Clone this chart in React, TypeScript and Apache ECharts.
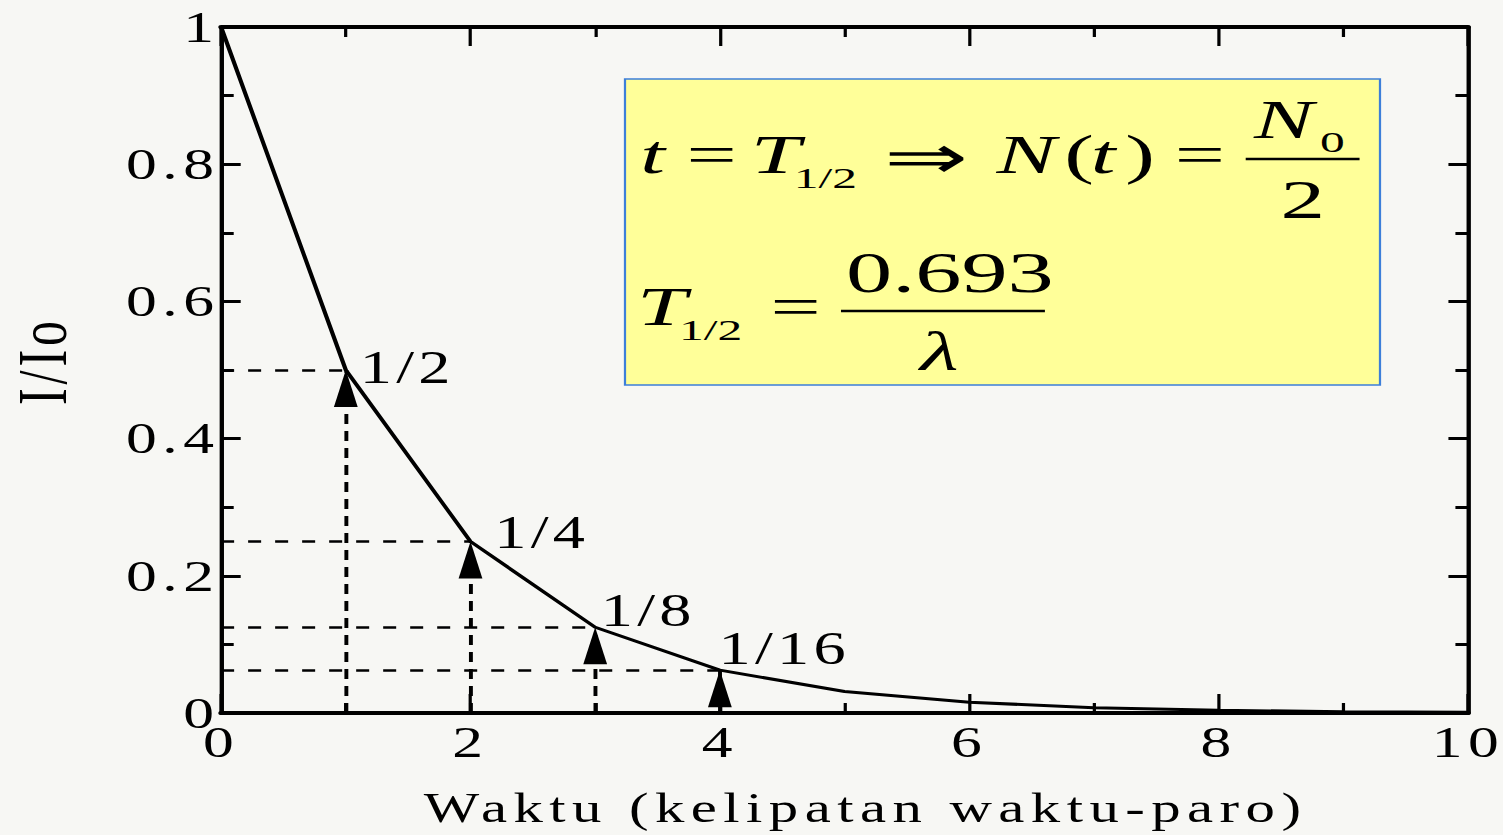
import React, { useEffect, useRef } from 'react';
import * as echarts from 'echarts';

// Radioactive decay: fraction remaining after whole numbers of half-lives.
const halfLives = [0, 1, 2, 3, 4, 5, 6, 7, 8, 9, 10];
const fractionRemaining = [
  1, 0.5, 0.25, 0.125, 0.0625, 0.03125, 0.015625, 0.0078125, 0.00390625, 0.001953125, 0.0009765625,
];

// Highlighted half-life steps and their labels.
const markedHalfLives = [1, 2, 3, 4];
const markedFractions = [0.5, 0.25, 0.125, 0.0625];
const markedLabels = ['1/2', '1/4', '1/8', '1/16'];

const xAxisTitle = 'Waktu (kelipatan waktu-paro)';
const yAxisTitle = 'I/Io';

// Layout: the chart is drawn narrower and widened horizontally.
const PAGE_W = 1503;
const PAGE_H = 835;
const CHART_W = 1074;
const STRETCH = PAGE_W / CHART_W;
const EQ_STRETCH = 1.65 / STRETCH;

const SERIF = 'Liberation Serif, Times New Roman, serif';
const BG = '#f7f7f4';

// Label nudges (px) for the step labels, relative to each point.
const labelNudges: [number, number][] = [
  [10, -3],
  [17, -9],
  [4, -17],
  [-1, -22],
];

const css = `
.decay-chart text[style*="44px"] { letter-spacing: 4px; }
.decay-chart text[style*="50px"] { letter-spacing: 4px; }
.decay-chart text[style*="42px"] { letter-spacing: 4.6px; }
.decay-chart text[style*="46px"] { letter-spacing: 3px; }
`;

const black = '#000';

function frameAxis(isX: boolean, main: boolean) {
  return {
    type: 'value' as const,
    min: 0,
    max: isX ? 10 : 1,
    interval: isX ? 2 : 0.2,
    position: isX ? (main ? 'bottom' : 'top') : main ? 'left' : 'right',
    axisLine: { show: true, onZero: false, lineStyle: { color: black, width: isX ? 4 : 3.1 } },
    axisTick: {
      show: true,
      inside: true,
      length: isX ? 19 : 14,
      lineStyle: { color: black, width: isX ? 2.3 : 3 },
    },
    minorTick: {
      show: true,
      splitNumber: 2,
      length: isX ? 10 : 9,
      lineStyle: { color: black, width: isX ? 2.3 : 3 },
    },
    splitLine: { show: false },
    minorSplitLine: { show: false },
    axisLabel: main
      ? {
          show: true,
          fontSize: 44,
          fontFamily: SERIF,
          color: black,
          margin: isX ? 7 : 1,
        }
      : { show: false },
  };
}

function eqText(text: string, x: number, y: number, size: number, italic = false) {
  return {
    type: 'text',
    x,
    y,
    z: 20,
    silent: true,
    style: {
      text,
      fontSize: size,
      fontFamily: SERIF,
      fontStyle: italic ? 'italic' : 'normal',
      fill: black,
      align: 'left',
      verticalAlign: 'middle',
    },
  };
}

function eqBar(x1: number, x2: number, y: number) {
  return {
    type: 'line',
    z: 20,
    silent: true,
    shape: { x1, y1: y, x2, y2: y },
    style: { stroke: black, lineWidth: 2.5 },
  };
}

const curve = halfLives.map((t, i) => [t, fractionRemaining[i]]);
const marked = markedHalfLives.map((t, i) => [t, markedFractions[i]]);

const option: any = {
  animation: false,
  backgroundColor: BG,
  grid: { left: 158, right: 25, top: 27, bottom: 122, containLabel: false, outerBoundsMode: 'none' },
  xAxis: [
    {
      ...frameAxis(true, true),
      name: xAxisTitle,
      nameLocation: 'middle',
      nameGap: 74,
      nameTextStyle: { fontSize: 42, fontFamily: SERIF, color: black, padding: [0, 0, 0, 30] },
    },
    frameAxis(true, false),
  ],
  yAxis: [
    {
      ...frameAxis(false, true),
      name: yAxisTitle,
      nameLocation: 'middle',
      nameGap: 103,
      nameTextStyle: { fontSize: 50, fontFamily: SERIF, color: black, padding: [0, 0, 0, 18] },
    },
    frameAxis(false, false),
  ],
  series: [
    {
      name: 'horizontal guides',
      type: 'lines',
      coordinateSystem: 'cartesian2d',
      silent: true,
      z: 1,
      lineStyle: { color: black, width: 2.6, type: [9.3, 10], opacity: 1 },
      data: marked.map(([t, f]) => ({ coords: [[0, f], [t, f]] })),
    },
    {
      name: 'vertical guides',
      type: 'lines',
      coordinateSystem: 'cartesian2d',
      silent: true,
      z: 1,
      lineStyle: { color: black, width: 2.8, type: [10, 7], opacity: 1 },
      data: marked.map(([t, f]) => ({ coords: [[t, 0], [t, f]] })),
    },
    {
      name: 'I/Io',
      type: 'line',
      data: curve,
      showSymbol: false,
      silent: true,
      z: 3,
      lineStyle: { color: black, width: 3 },
    },
    {
      name: 'arrows',
      type: 'scatter',
      data: marked,
      symbol: 'triangle',
      symbolSize: [17, 37],
      symbolOffset: [0, 18.5],
      silent: true,
      z: 4,
      itemStyle: { color: black, opacity: 1 },
    },
    {
      name: 'step labels',
      type: 'scatter',
      data: marked.map((p, i) => ({
        value: p,
        label: { offset: labelNudges[i], color: black },
      })),
      symbolSize: 0.1,
      silent: true,
      z: 5,
      itemStyle: { color: black },
      label: {
        show: true,
        position: 'right',
        distance: 0,
        align: 'left',
        verticalAlign: 'middle',
        fontSize: 46,
        fontFamily: SERIF,
        color: black,
        opacity: 1,
        formatter: (p: any) => markedLabels[p.dataIndex],
      },
    },
  ],
  graphic: [
    {
      type: 'rect',
      silent: true,
      z: 10,
      shape: { x: 446.6, y: 79, width: 539.5, height: 306 },
      style: { fill: '#ffff99', stroke: '#3d7fd9', lineWidth: 1.6 },
    },
    {
      type: 'group',
      x: 0,
      y: 0,
      scaleX: EQ_STRETCH,
      z: 20,
      silent: true,
      children: [
        // t = T_1/2 => N(t) = N0 / 2
        eqText('t', 388, 155, 54, true),
        eqText('=', 416, 155, 54),
        eqText('T', 455, 155, 54, true),
        eqText('1/2', 481, 178, 30),
        eqText('\u21d2', 536, 157, 61),
        eqText('N', 604, 155, 54, true),
        eqText('(', 645, 155, 54),
        eqText('t', 661, 155, 54, true),
        eqText(')', 682, 155, 54),
        eqText('=', 712, 155, 54),
        eqText('N', 760, 120, 54, true),
        eqText('0', 800, 142, 30),
        eqBar(755, 824, 159),
        eqText('2', 776, 200, 54),
        // T_1/2 = 0.693 / lambda
        eqText('T', 386, 307, 54, true),
        eqText('1/2', 411.5, 330, 30),
        eqText('=', 467, 307, 54),
        eqText('0.693', 512.7, 273, 56),
        eqBar(509.7, 633.3, 311),
        eqText('\u03bb', 557.6, 352, 54, true),
      ],
    },
  ],
};

export default function App() {
  const ref = useRef<HTMLDivElement>(null);

  useEffect(() => {
    if (!ref.current) return;
    const chart = echarts.init(ref.current, null, { renderer: 'svg' });
    chart.setOption(option);
    return () => chart.dispose();
  }, []);

  return (
    <div
      style={{
        position: 'fixed',
        left: 0,
        top: 0,
        width: PAGE_W,
        height: PAGE_H,
        overflow: 'hidden',
        background: BG,
      }}
    >
      <style>{css}</style>
      <div
        ref={ref}
        className="decay-chart"
        style={{
          width: CHART_W,
          height: PAGE_H,
          transform: `scaleX(${STRETCH})`,
          transformOrigin: '0 0',
        }}
      />
    </div>
  );
}
